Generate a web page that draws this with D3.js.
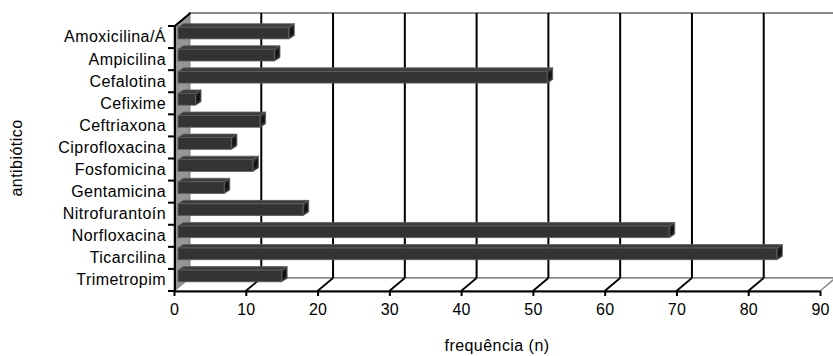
<!DOCTYPE html>
<html>
<head>
<meta charset="utf-8">
<script src="https://cdn.jsdelivr.net/npm/d3@7"></script>
<style>
  html, body { margin: 0; padding: 0; background: #fff; }
  svg { display: block; }
  text { font-family: "Liberation Sans", Arial, sans-serif; fill: #000; }
</style>
</head>
<body>
<svg id="chart" width="833" height="356"></svg>
<script>
// Antibiotics and how often each was used
const categories = [
  "Amoxicilina/Á", "Ampicilina", "Cefalotina", "Cefixime", "Ceftriaxona",
  "Ciprofloxacina", "Fosfomicina", "Gentamicina", "Nitrofurantoín",
  "Norfloxacina", "Ticarcilina", "Trimetropim"
];
const values = [16, 14, 52, 3, 12, 8, 11, 7, 18, 69, 84, 15];
const xTicks = [0, 10, 20, 30, 40, 50, 60, 70, 80, 90];
const xTitle = "frequência (n)";
const yTitle = "antibiótico";

const svg = d3.select("#chart");

// front plane of the 3-D box and the depth offset of its back plane
const x = d3.scaleLinear().domain([0, 90]).range([174, 820]);
const y = d3.scaleBand().domain(categories).range([26, 291]).padding(0);
const DX = 15.5, DY = -13;
const yTop = 26, yBot = 291;

const pts = a => a.map(p => p.join(",")).join(" ");

// left side wall
svg.append("polygon")
  .attr("points", pts([[x(0), yTop], [x(0) + DX, yTop + DY], [x(0) + DX, yBot + DY], [x(0), yBot]]))
  .attr("fill", "#969696").attr("stroke", "#7a7a7a").attr("stroke-width", 1);

// back wall
svg.append("rect")
  .attr("x", x(0) + DX).attr("y", yTop + DY)
  .attr("width", x(90) - x(0)).attr("height", yBot - yTop)
  .attr("fill", "#fff").attr("stroke", "#8a8a8a").attr("stroke-width", 2);

// floor
svg.append("polygon")
  .attr("points", pts([[x(0), yBot], [x(90), yBot], [x(90) + DX, yBot + DY], [x(0) + DX, yBot + DY]]))
  .attr("fill", "#fff").attr("stroke", "#8a8a8a").attr("stroke-width", 1.5);

// gridlines on the back wall and their continuation across the floor
const inner = xTicks.filter(t => t > 0 && t < 90);
svg.append("g").selectAll("line").data(inner).join("line")
  .attr("x1", d => x(d) + DX).attr("x2", d => x(d) + DX)
  .attr("y1", yTop + DY).attr("y2", yBot + DY)
  .attr("stroke", "#000").attr("stroke-width", 2);
svg.append("g").selectAll("line").data(inner).join("line")
  .attr("x1", d => x(d)).attr("y1", yBot)
  .attr("x2", d => x(d) + DX).attr("y2", yBot + DY)
  .attr("stroke", "#000").attr("stroke-width", 1.8);

// 3-D bars
const bx = 4, bdx = 5.5, bdy = -3.5;
const bh = y.bandwidth() * 0.53;
const bars = svg.append("g").selectAll("g").data(categories).join("g");
bars.each(function (c, i) {
  const g = d3.select(this);
  const x0 = x(0) + bx, x1 = x(values[i]);
  const y0 = y(c) + 1.2, y1 = y0 + bh;
  // top face
  g.append("polygon")
    .attr("points", pts([[x0, y0], [x0 + bdx, y0 + bdy], [x1 + bdx, y0 + bdy], [x1, y0]]))
    .attr("fill", "#3c3c3c").attr("stroke", "#5e5e5e").attr("stroke-width", 0.8);
  // front face
  g.append("rect")
    .attr("x", x0).attr("y", y0).attr("width", x1 - x0).attr("height", bh)
    .attr("fill", "#333").attr("stroke", "#5e5e5e").attr("stroke-width", 0.8);
  // end cap
  g.append("polygon")
    .attr("points", pts([[x1, y0], [x1 + bdx, y0 + bdy], [x1 + bdx, y1 + bdy], [x1, y1]]))
    .attr("fill", "#2c2c2c").attr("stroke", "#5e5e5e").attr("stroke-width", 0.8);
  g.append("polygon")
    .attr("points", pts([[x1 + 1.3, y0 + 2.5], [x1 + bdx - 1.2, y0 + bdy + 3.3], [x1 + bdx - 1.2, y1 + bdy - 2.2], [x1 + 1.3, y1 - 3]]))
    .attr("fill", "#111");
});

// vertical axis line, top edge of the side wall, and category ticks
svg.append("line")
  .attr("x1", x(0) + 1).attr("x2", x(0) + 1).attr("y1", yTop).attr("y2", yBot)
  .attr("stroke", "#000").attr("stroke-width", 2);
svg.append("line")
  .attr("x1", x(0) + 1).attr("y1", yTop).attr("x2", x(0) + DX + 1).attr("y2", yTop + DY)
  .attr("stroke", "#000").attr("stroke-width", 2);
const bounds = categories.map(c => y(c)).concat([yBot]);
svg.append("g").selectAll("line").data(bounds).join("line")
  .attr("x1", x(0) - 6).attr("x2", x(0) + 1)
  .attr("y1", d => d).attr("y2", d => d)
  .attr("stroke", "#000").attr("stroke-width", 2);

// category labels
const yAxis = svg.append("g")
  .attr("transform", `translate(${x(0) - 8},0)`)
  .call(d3.axisLeft(y).tickSize(0).tickPadding(0));
yAxis.select(".domain").remove();
yAxis.selectAll("text")
  .attr("dy", "0.34em")
  .style("font-size", "16px").style("letter-spacing", "0.45px")
  .style("font-family", "'Liberation Sans', Arial, sans-serif").attr("fill", "#000");

// value axis
const xAxis = svg.append("g")
  .attr("transform", `translate(0,${yBot})`)
  .call(d3.axisBottom(x).tickValues(xTicks).tickSize(5).tickPadding(8).tickSizeOuter(0));
xAxis.select(".domain").attr("stroke", "#000").attr("stroke-width", 2);
xAxis.selectAll(".tick line").attr("stroke", "#000").attr("stroke-width", 2);
xAxis.selectAll("text")
  .style("font-size", "16px").style("letter-spacing", "0.2px")
  .style("font-family", "'Liberation Sans', Arial, sans-serif").attr("fill", "#000");

// axis titles
svg.append("text")
  .attr("x", (x(0) + x(90)) / 2).attr("y", 351)
  .attr("text-anchor", "middle")
  .style("font-size", "16px").style("letter-spacing", "0.45px")
  .text(xTitle);
svg.append("text")
  .attr("transform", "translate(21.5,158) rotate(-90)")
  .attr("text-anchor", "middle")
  .style("font-size", "16px").style("letter-spacing", "0.45px")
  .text(yTitle);
</script>
</body>
</html>
